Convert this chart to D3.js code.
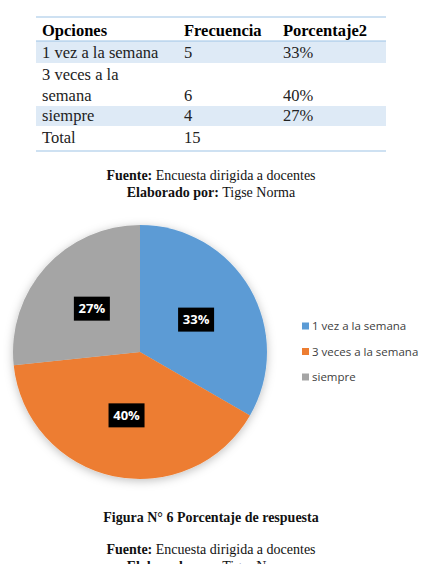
<!DOCTYPE html>
<html>
<head>
<meta charset="utf-8">
<script src="https://cdn.jsdelivr.net/npm/d3@7"></script>
<style>
  body { margin: 0; background: #fff; }
  svg { display: block; }
</style>
</head>
<body>
<div id="chart"></div>
<script>
// Data
const options = ["1 vez a la semana", "3 veces a la semana", "siempre"];
const frequencies = [5, 6, 4];
const percentLabels = ["33%", "40%", "27%"];
const tableHeaders = ["Opciones", "Frecuencia", "Porcentaje2"];
const total = 15;
const colors = ["#5B9BD5", "#ED7D31", "#A5A5A5"];

const width = 430, height = 564;
const serif = "'Liberation Serif', 'Times New Roman', serif";
const sans = "'Open Sans', 'Liberation Sans', sans-serif";

const svg = d3.select("#chart").append("svg")
    .attr("width", width)
    .attr("height", height);

// ---------- Table ----------
const tableLeft = 36, tableRight = 386;
const colX = [42, 184, 283];
const tableFont = "16.5px";

// shaded rows
svg.append("rect").attr("x", tableLeft).attr("y", 41).attr("width", tableRight - tableLeft).attr("height", 22).attr("fill", "#DEEAF6");
svg.append("rect").attr("x", tableLeft).attr("y", 106).attr("width", tableRight - tableLeft).attr("height", 20).attr("fill", "#DEEAF6");

// border lines
[17, 41, 151].forEach(y => {
    svg.append("line")
        .attr("x1", tableLeft).attr("x2", tableRight)
        .attr("y1", y).attr("y2", y)
        .attr("stroke", "#9DC3E6")
        .attr("stroke-width", 1.2);
});

// header
tableHeaders.forEach((h, i) => {
    svg.append("text")
        .attr("x", colX[i]).attr("y", 36)
        .attr("font-family", serif)
        .attr("font-size", tableFont)
        .attr("font-weight", "bold")
        .attr("fill", "#000")
        .text(h);
});

// rows: second option wraps on two lines as in the original
const rowLines = [["1 vez a la semana"], ["3 veces a la", "semana"], ["siempre"]];
const rowBase = [58, 101, 121];
rowLines.forEach((lines, i) => {
    lines.forEach((l, j) => {
        svg.append("text")
            .attr("x", colX[0])
            .attr("y", rowBase[i] - (lines.length - 1 - j) * 21)
            .attr("font-family", serif).attr("font-size", tableFont).attr("fill", "#222")
            .text(l);
    });
    svg.append("text").attr("x", colX[1]).attr("y", rowBase[i])
        .attr("font-family", serif).attr("font-size", tableFont).attr("fill", "#222")
        .text(frequencies[i]);
    svg.append("text").attr("x", colX[2]).attr("y", rowBase[i])
        .attr("font-family", serif).attr("font-size", tableFont).attr("fill", "#222")
        .text(percentLabels[i]);
});
svg.append("text").attr("x", colX[0]).attr("y", 143)
    .attr("font-family", serif).attr("font-size", tableFont).attr("fill", "#222").text("Total");
svg.append("text").attr("x", colX[1]).attr("y", 143)
    .attr("font-family", serif).attr("font-size", tableFont).attr("fill", "#222").text(total);

// ---------- Source captions ----------
function caption(y, boldPart, rest) {
    const t = svg.append("text")
        .attr("x", width / 2 - 4).attr("y", y)
        .attr("text-anchor", "middle")
        .attr("font-family", serif).attr("font-size", "14px").attr("fill", "#111");
    t.append("tspan").attr("font-weight", "bold").text(boldPart);
    if (rest) t.append("tspan").text(rest);
}
caption(180, "Fuente:", " Encuesta dirigida a docentes");
caption(197, "Elaborado por:", " Tigse Norma");

// ---------- Pie ----------
const cx = 140, cy = 352, r = 127;

const defs = svg.append("defs");
const filter = defs.append("filter").attr("id", "shadow")
    .attr("x", "-20%").attr("y", "-20%").attr("width", "140%").attr("height", "140%");
filter.append("feDropShadow")
    .attr("dx", 0).attr("dy", 2)
    .attr("stdDeviation", 5)
    .attr("flood-color", "#000")
    .attr("flood-opacity", 0.25);

const pie = d3.pie().sort(null).value(d => d);
const arcs = pie(frequencies);
const arc = d3.arc().innerRadius(0).outerRadius(r);
const labelArc = d3.arc().innerRadius(r * 0.51).outerRadius(r * 0.51);

const g = svg.append("g").attr("transform", `translate(${cx},${cy})`);
const slices = g.append("g").attr("filter", "url(#shadow)");
slices.selectAll("path")
    .data(arcs)
    .join("path")
    .attr("d", arc)
    .attr("fill", (d, i) => colors[i]);

// data labels
const lbl = g.selectAll(".lbl")
    .data(arcs)
    .join("g")
    .attr("class", "lbl")
    .attr("transform", d => `translate(${labelArc.centroid(d)})`);
lbl.append("rect")
    .attr("x", -18).attr("y", -12)
    .attr("width", 36).attr("height", 24)
    .attr("fill", "#000");
lbl.append("text")
    .attr("text-anchor", "middle")
    .attr("dy", "0.36em")
    .attr("font-family", sans)
    .attr("font-size", "13px")
    .attr("font-weight", "bold")
    .attr("fill", "#fff")
    .text((d, i) => percentLabels[i]);

// legend
const legendY = d3.scalePoint().domain(options).range([326, 377]);
const legend = svg.selectAll(".leg")
    .data(options)
    .join("g")
    .attr("class", "leg")
    .attr("transform", d => `translate(302,${legendY(d)})`);
legend.append("rect")
    .attr("x", 0).attr("y", -3.5)
    .attr("width", 7).attr("height", 7)
    .attr("fill", (d, i) => colors[i]);
legend.append("text")
    .attr("x", 10).attr("dy", "0.35em")
    .attr("font-family", sans)
    .attr("font-size", "11.5px")
    .attr("fill", "#404040")
    .text(d => d);

// ---------- Figure caption ----------
svg.append("text")
    .attr("x", width / 2 - 4).attr("y", 522)
    .attr("text-anchor", "middle")
    .attr("font-family", serif).attr("font-size", "14px")
    .attr("font-weight", "bold").attr("fill", "#111")
    .text("Figura N° 6 Porcentaje de respuesta");
caption(554, "Fuente:", " Encuesta dirigida a docentes");
caption(571, "Elaborado por:", " Tigse Norma");
</script>
</body>
</html>
